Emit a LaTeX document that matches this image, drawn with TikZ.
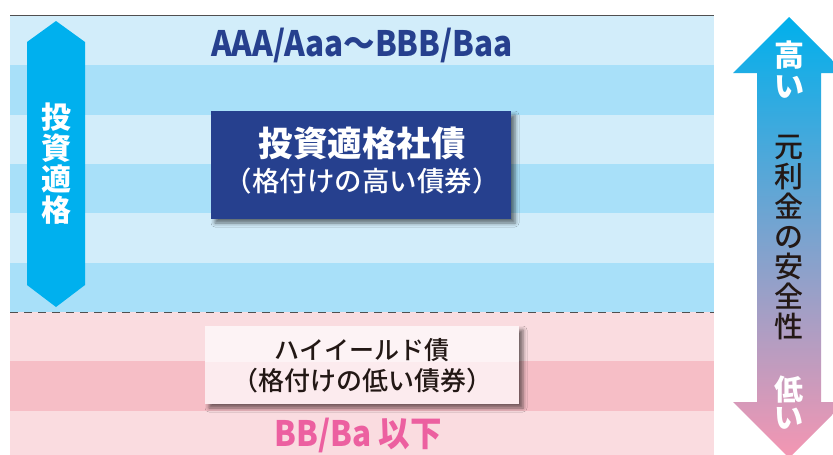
\documentclass[tikz,border=0pt]{standalone}
\usepackage{fontspec}
\setmainfont{Noto Sans CJK JP}
\newfontfamily\mediumjp{Noto Sans CJK JP Medium}
\usetikzlibrary{shadows,shadows.blur,calc}

\begin{document}
\begin{tikzpicture}[x=1pt,y=-1pt,
  vlabel/.style={align=center,inner sep=0pt,outer sep=0pt},
  plate/.style={inner sep=0pt,outer sep=0pt,
    blur shadow={shadow xshift=4pt,shadow yshift=-4pt,shadow blur radius=4pt,shadow opacity=55}},
  platetext/.style={inner sep=0pt,outer sep=0pt}]
\definecolor{bandLight}{RGB}{210,237,250}
\definecolor{bandDark}{RGB}{168,224,249}
\definecolor{pinkLight}{RGB}{250,220,224}
\definecolor{pinkDark}{RGB}{246,190,198}
\definecolor{gradeBlue}{RGB}{0,176,238}
\definecolor{navyColor}{RGB}{38,64,142}
\definecolor{pinkText}{RGB}{236,96,160}
\definecolor{inkColor}{RGB}{35,24,21}
\definecolor{lineColor}{RGB}{80,80,80}
\definecolor{plateTop}{RGB}{253,243,245}
\definecolor{plateLow}{RGB}{252,235,238}
\definecolor{arrowTop}{RGB}{0,176,236}
\definecolor{arrowMid}{RGB}{165,165,205}
\definecolor{arrowBot}{RGB}{245,150,178}
\useasboundingbox (0,0) rectangle (833,455);
\clip (0,0) rectangle (833,455);
\fill[white] (0,0) rectangle (833,455);

\foreach \k/\c in {0/bandLight,1/bandDark,2/bandLight,3/bandDark,4/bandLight,5/bandDark,6/pinkLight,7/pinkDark,8/pinkLight}
  \fill[\c] (10,{16+49.33*\k}) rectangle (714,{16+49.33*(\k+1)});

\draw[lineColor,line width=1.6pt] (10,15.5) -- (714,15.5);
\draw[lineColor,line width=1pt,dash pattern=on 8pt off 6pt] (10,312) -- (714,312);

\fill[gradeBlue] (56,21) -- (85,42) -- (85,285) -- (56,307) -- (27,285) -- (27,42) -- cycle;
\node[vlabel,text=white,font=\bfseries\fontsize{30}{31}\selectfont] (gradeLabel) at (56,164) {投\\資\\適\\格};

\node[text=navyColor,anchor=base,inner sep=0pt,xscale=0.9,font=\bfseries\fontsize{35}{35}\selectfont] (topGrade) at (362,56) {AAA/Aaa～BBB/Baa};

\node[plate,fill=navyColor,minimum width=300,minimum height=108] (igBox) at (361,165) {};
\node[platetext,text=white,font=\bfseries\fontsize{34.5}{34.5}\selectfont] (igTitle) at (362,144) {投資適格社債};
\node[platetext,text=white,font=\mediumjp\fontsize{27.5}{27.5}\selectfont] (igSub) at (362,181) {（格付けの高い債券）};

\coordinate (pinkSplit) at (0,361.7);
\node[plate,fill=plateTop,minimum width=314,minimum height=78] (hyBox) at (362,365) {};
\fill[plateLow] (hyBox.south west) rectangle (hyBox.east |- pinkSplit);
\node[platetext,text=inkColor,font=\mediumjp\fontsize{25}{25}\selectfont] (hyTitle) at (362,350) {ハイイールド債};
\node[platetext,text=inkColor,font=\mediumjp\fontsize{26}{26}\selectfont] (hySub) at (362,381) {（格付けの低い債券）};

\node[text=pinkText,anchor=base,inner sep=0pt,xscale=0.9,font=\bfseries\fontsize{35}{35}\selectfont] (lowGrade) at (358,446) {BB/Ba 以下};

\shade[top color=arrowTop,middle color=arrowMid,bottom color=arrowBot]
  (789,17) -- (845,73) -- (821,73) -- (821,402) -- (845,402) -- (789,458) --
  (733,402) -- (757,402) -- (757,73) -- (733,73) -- cycle;
\node[vlabel,text=white,font=\bfseries\fontsize{30}{31}\selectfont] (safeHigh) at (789,70) {高\\い};
\node[vlabel,text=inkColor,font=\mediumjp\fontsize{29}{30}\selectfont] (safeLabel) at (789,238) {元\\利\\金\\の\\安\\全\\性};
\node[vlabel,text=white,font=\bfseries\fontsize{29}{28}\selectfont] (safeLow) at (789,403) {低\\い};
\end{tikzpicture}
\end{document}
